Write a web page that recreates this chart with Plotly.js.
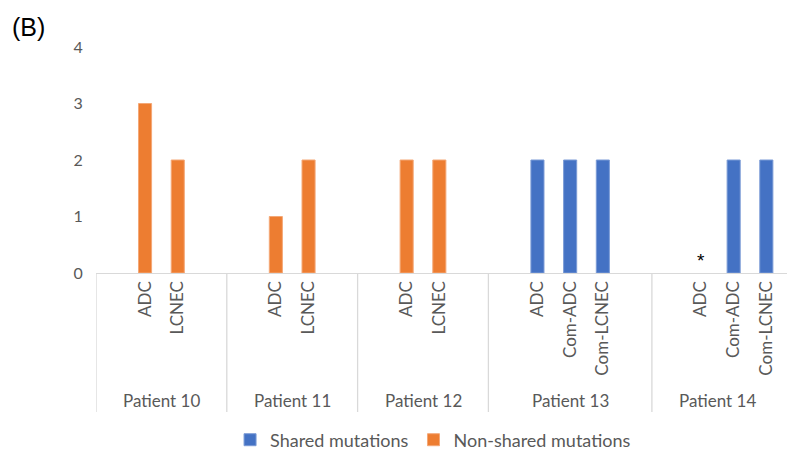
<!DOCTYPE html>
<html>
<head>
<meta charset="utf-8">
<script src="https://cdn.plot.ly/plotly-3.0.1.min.js"></script>
<style>html,body{margin:0;padding:0;background:#fff;}#chart{width:787px;height:450px;}</style>
</head>
<body>
<div id="chart"></div>
<script>
// ---- data ----
const patients = ['Patient 10', 'Patient 11', 'Patient 12', 'Patient 13', 'Patient 14'];
const sampleLabels = ['ADC', 'LCNEC', 'ADC', 'LCNEC', 'ADC', 'LCNEC', 'ADC', 'Com-ADC', 'Com-LCNEC', 'ADC', 'Com-ADC', 'Com-LCNEC'];
const samplePatient = [0, 0, 1, 1, 2, 2, 3, 3, 3, 4, 4, 4];
const sharedMutations = [0, 0, 0, 0, 0, 0, 2, 2, 2, 0, 2, 2];
const nonSharedMutations = [3, 2, 1, 2, 2, 2, 0, 0, 0, 0, 0, 0];
const sampleNotes = ['', '', '', '', '', '', '', '', '', '*', '', ''];
const seriesNames = ['Shared mutations', 'Non-shared mutations'];

// ---- layout of category slots (one blank slot before and after each patient group) ----
const positions = [];
const groupSpans = [];
let slot = 0;
patients.forEach((p, gi) => {
  const start = slot - 0.5;
  slot += 1; // leading blank
  samplePatient.forEach((pi, si) => { if (pi === gi) { positions[si] = slot; slot += 1; } });
  if (gi < patients.length - 1) slot += 1; // trailing blank
  groupSpans.push([start, slot - 0.5]);
});

const FONT = 'Lato, "Open Sans", "Liberation Sans", sans-serif';
const GREY = '#595959';
const LINE = '#d9d9d9';

const traces = [
  {
    type: 'bar', name: seriesNames[0], x: positions,
    y: sharedMutations.map(v => v === 0 ? null : v),
    width: 0.4,
    marker: {color: '#4472C4', line: {color: '#7b9bd6', width: 1}},
    hoverinfo: 'y'
  },
  {
    type: 'bar', name: seriesNames[1], x: positions,
    y: nonSharedMutations.map(v => v === 0 ? null : v),
    width: 0.4,
    marker: {color: '#ED7D31', line: {color: '#f4a877', width: 1}},
    hoverinfo: 'y'
  }
];

const shapes = groupSpans.map(s => ({
  type: 'line', xref: 'x', yref: 'paper', x0: s[0], x1: s[0], y0: 0, y1: -0.615,
  line: {color: LINE, width: 1.3}
}));

const annotations = patients.map((p, gi) => ({
  xref: 'x', yref: 'paper', x: (groupSpans[gi][0] + groupSpans[gi][1]) / 2, y: -0.566,
  text: p, showarrow: false, xanchor: 'center', yanchor: 'middle',
  font: {family: FONT, size: 17, color: GREY}
}));
sampleNotes.forEach((n, i) => {
  if (n) annotations.push({
    xref: 'x', yref: 'y', x: positions[i], y: 0, text: n, showarrow: false,
    xanchor: 'center', yanchor: 'bottom', font: {family: '"Liberation Sans", Arial, sans-serif', size: 19, color: '#000'}
  });
});
annotations.push({
  xref: 'paper', yref: 'paper', x: -0.125, y: 1.088, text: '(B)', showarrow: false,
  xanchor: 'left', yanchor: 'middle', font: {family: '"Liberation Sans", Arial, sans-serif', size: 25, color: '#000'}
});

const layout = {
  width: 787, height: 450,
  margin: {l: 96, r: 0, t: 47, b: 177, autoexpand: false},
  paper_bgcolor: '#fff', plot_bgcolor: '#fff',
  barmode: 'overlay',
  showlegend: true,
  legend: {
    orientation: 'h', x: 0.194, xanchor: 'left', y: -0.739, yanchor: 'middle',
    font: {family: FONT, size: 18, color: GREY}, itemwidth: 30, traceorder: 'normal'
  },
  xaxis: {
    range: [-0.5, (787 - 96) / 32.7 - 0.5],
    tickvals: positions, ticktext: sampleLabels, tickangle: -90,
    ticks: '',
    tickfont: {family: FONT, size: 17, color: GREY},
    showline: true, linecolor: LINE, linewidth: 1.3,
    showgrid: false, zeroline: false, fixedrange: true, automargin: false
  },
  yaxis: {
    range: [0, 4], tickvals: [0, 1, 2, 3, 4],
    ticks: 'outside', ticklen: 9, tickcolor: 'rgba(0,0,0,0)',
    tickfont: {family: FONT, size: 16, color: GREY},
    showline: false, showgrid: false, zeroline: false, fixedrange: true, automargin: false
  },
  shapes: shapes,
  annotations: annotations
};

Plotly.newPlot('chart', traces, layout, {displayModeBar: false, staticPlot: true});
</script>
</body>
</html>
